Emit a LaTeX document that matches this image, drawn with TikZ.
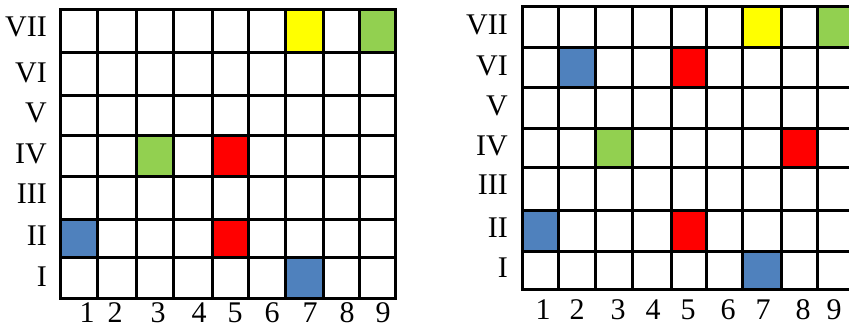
\documentclass[tikz,border=0pt]{standalone}
\usepackage{fontspec}
\setmainfont{Liberation Serif}
\definecolor{cyel}{HTML}{FFFF00}
\definecolor{cgrn}{HTML}{92D050}
\definecolor{cred}{HTML}{FF0000}
\definecolor{cblu}{HTML}{4F81BD}
\tikzset{
  gridline/.style={line width=3pt, line cap=rect, black},
  rowlab/.style={anchor=east, inner sep=0pt, font=\fontsize{30}{36}\selectfont},
  collab/.style={anchor=center, inner sep=0pt, font=\fontsize{30}{36}\selectfont},
}
\begin{document}
\begin{tikzpicture}[x=1pt,y=-1pt]
\useasboundingbox (0,0) rectangle (849,328);
% ---------- left grid: coloured cells
\fill[cyel] (285,10) rectangle (323,53);
\fill[cgrn] (359,10) rectangle (395,53);
\fill[cgrn] (136,136) rectangle (173,177);
\fill[cred] (212,136) rectangle (248,177);
\fill[cblu] (60,220) rectangle (97,258);
\fill[cred] (212,220) rectangle (248,258);
\fill[cblu] (285,258) rectangle (323,299);
% left grid lines
\foreach \x in {60,97,136,173,212,248,285,323,359,395}
  \draw[gridline] (\x,10) -- (\x,299);
\foreach \y in {10,53,96,136,177,220,258,299}
  \draw[gridline] (60,\y) -- (395,\y);
% left labels
\node[rowlab] (lr7) at (47,27) {VII};
\node[rowlab] (lr6) at (47,73) {VI};
\node[rowlab] (lr5) at (47,113) {V};
\node[rowlab] (lr4) at (47,154) {IV};
\node[rowlab] (lr3) at (47,194) {III};
\node[rowlab] (lr2) at (47,236) {II};
\node[rowlab] (lr1) at (47,277) {I};
\node[collab] (lc1) at (87,313) {1};
\node[collab] (lc2) at (115,313) {2};
\node[collab] (lc3) at (158,313) {3};
\node[collab] (lc4) at (199,313) {4};
\node[collab] (lc5) at (235,313) {5};
\node[collab] (lc6) at (272,313) {6};
\node[collab] (lc7) at (310,313) {7};
\node[collab] (lc8) at (347,313) {8};
\node[collab] (lc9) at (383,313) {9};
% ---------- right grid (cut off at the picture's right edge)
\begin{scope}
\clip (500,0) rectangle (849,328);
\fill[cyel] (742,7) rectangle (781,48);
\fill[cgrn] (817,7) rectangle (853,48);
\fill[cblu] (558,48) rectangle (595,88);
\fill[cred] (671,48) rectangle (706,88);
\fill[cgrn] (595,129) rectangle (632,168);
\fill[cred] (781,129) rectangle (817,168);
\fill[cblu] (522,211) rectangle (558,252);
\fill[cred] (671,211) rectangle (706,252);
\fill[cblu] (742,252) rectangle (781,290);
\foreach \x in {522,558,595,632,671,706,742,781,817,853}
  \draw[gridline] (\x,7) -- (\x,290);
\foreach \y in {7,48,88,129,168,211,252,290}
  \draw[gridline] (522,\y) -- (853,\y);
\end{scope}
% right labels
\node[rowlab] (rr7) at (508,25) {VII};
\node[rowlab] (rr6) at (508,66) {VI};
\node[rowlab] (rr5) at (508,106) {V};
\node[rowlab] (rr4) at (508,146) {IV};
\node[rowlab] (rr3) at (508,185) {III};
\node[rowlab] (rr2) at (508,228) {II};
\node[rowlab] (rr1) at (508,268) {I};
\node[collab] (rc1) at (543,310) {1};
\node[collab] (rc2) at (577,310) {2};
\node[collab] (rc3) at (618,310) {3};
\node[collab] (rc4) at (653,310) {4};
\node[collab] (rc5) at (688,310) {5};
\node[collab] (rc6) at (728,310) {6};
\node[collab] (rc7) at (763,310) {7};
\node[collab] (rc8) at (803,310) {8};
\node[collab] (rc9) at (834,310) {9};
\end{tikzpicture}
\end{document}
